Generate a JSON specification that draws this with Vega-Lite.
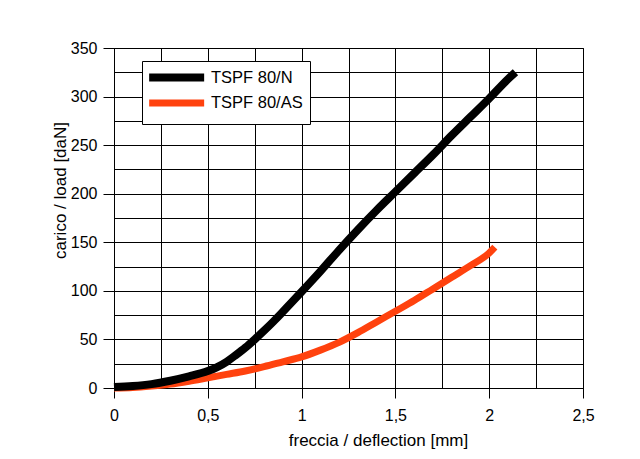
{
  "$schema": "https://vega.github.io/schema/vega-lite/v6.json",
  "width": 469,
  "height": 340,
  "autosize": {"type": "none"},
  "padding": {"left": 114, "top": 48, "right": 57, "bottom": 71},
  "background": "white",
  "config": {
    "font": "Liberation Sans",
    "view": {"stroke": "black", "strokeWidth": 1}
  },
  "data": {
    "values": [
      {"s": "TSPF 80/AS", "x": 0, "y": 0},
      {"s": "TSPF 80/AS", "x": 0.1, "y": 0.5},
      {"s": "TSPF 80/AS", "x": 0.2, "y": 2},
      {"s": "TSPF 80/AS", "x": 0.3, "y": 4},
      {"s": "TSPF 80/AS", "x": 0.4, "y": 7},
      {"s": "TSPF 80/AS", "x": 0.5, "y": 10.5},
      {"s": "TSPF 80/AS", "x": 0.6, "y": 14},
      {"s": "TSPF 80/AS", "x": 0.7, "y": 17.5},
      {"s": "TSPF 80/AS", "x": 0.8, "y": 22},
      {"s": "TSPF 80/AS", "x": 0.9, "y": 27},
      {"s": "TSPF 80/AS", "x": 1.0, "y": 32},
      {"s": "TSPF 80/AS", "x": 1.1, "y": 39},
      {"s": "TSPF 80/AS", "x": 1.2, "y": 47},
      {"s": "TSPF 80/AS", "x": 1.3, "y": 57},
      {"s": "TSPF 80/AS", "x": 1.4, "y": 68},
      {"s": "TSPF 80/AS", "x": 1.5, "y": 79},
      {"s": "TSPF 80/AS", "x": 1.6, "y": 90},
      {"s": "TSPF 80/AS", "x": 1.7, "y": 102},
      {"s": "TSPF 80/AS", "x": 1.8, "y": 114},
      {"s": "TSPF 80/AS", "x": 1.9, "y": 126},
      {"s": "TSPF 80/AS", "x": 2.0, "y": 139},
      {"s": "TSPF 80/AS", "x": 2.03, "y": 145},
      {"s": "TSPF 80/N", "x": 0, "y": 1},
      {"s": "TSPF 80/N", "x": 0.1, "y": 2},
      {"s": "TSPF 80/N", "x": 0.2, "y": 4},
      {"s": "TSPF 80/N", "x": 0.3, "y": 7.5},
      {"s": "TSPF 80/N", "x": 0.4, "y": 12},
      {"s": "TSPF 80/N", "x": 0.5, "y": 17.5},
      {"s": "TSPF 80/N", "x": 0.55, "y": 21.5},
      {"s": "TSPF 80/N", "x": 0.6, "y": 27},
      {"s": "TSPF 80/N", "x": 0.65, "y": 34},
      {"s": "TSPF 80/N", "x": 0.7, "y": 41.5},
      {"s": "TSPF 80/N", "x": 0.75, "y": 50},
      {"s": "TSPF 80/N", "x": 0.8, "y": 59},
      {"s": "TSPF 80/N", "x": 0.85, "y": 68.5},
      {"s": "TSPF 80/N", "x": 0.9, "y": 78.5},
      {"s": "TSPF 80/N", "x": 1.0, "y": 99},
      {"s": "TSPF 80/N", "x": 1.1, "y": 120},
      {"s": "TSPF 80/N", "x": 1.2, "y": 142},
      {"s": "TSPF 80/N", "x": 1.3, "y": 163},
      {"s": "TSPF 80/N", "x": 1.4, "y": 183},
      {"s": "TSPF 80/N", "x": 1.5, "y": 202},
      {"s": "TSPF 80/N", "x": 1.6, "y": 221},
      {"s": "TSPF 80/N", "x": 1.7, "y": 240},
      {"s": "TSPF 80/N", "x": 1.8, "y": 260},
      {"s": "TSPF 80/N", "x": 1.9, "y": 279},
      {"s": "TSPF 80/N", "x": 2.0, "y": 298},
      {"s": "TSPF 80/N", "x": 2.1, "y": 318},
      {"s": "TSPF 80/N", "x": 2.14, "y": 325}
    ]
  },
  "mark": {"type": "line", "interpolate": "monotone"},
  "encoding": {
    "x": {
      "field": "x",
      "type": "quantitative",
      "scale": {"domain": [0, 2.5], "nice": false, "zero": false},
      "axis": {
        "title": "freccia / deflection [mm]",
        "values": [0, 0.25, 0.5, 0.75, 1, 1.25, 1.5, 1.75, 2, 2.25, 2.5],
        "labelExpr": "abs(datum.value*2 - round(datum.value*2)) < 0.001 ? replace(format(datum.value, '~g'), '.', ',') : ''",
        "tickOpacity": {"condition": {"test": "abs(datum.value*2 - round(datum.value*2)) < 0.001", "value": 1}, "value": 0},
        "grid": true,
        "gridColor": "black",
        "gridOpacity": 1,
        "gridWidth": 1,
        "domainColor": "black",
        "domainWidth": 1,
        "tickColor": "black",
        "tickSize": 10,
        "labelPadding": 9,
        "labelFontSize": 16,
        "labelColor": "black",
        "labelFlush": false,
        "labelOverlap": false,
        "titleFontSize": 17,
        "titleFontWeight": "normal",
        "titleColor": "black",
        "titleX": 264,
        "titleY": 52,
        "titleBaseline": "middle",
        "titleAlign": "center"
      }
    },
    "y": {
      "field": "y",
      "type": "quantitative",
      "scale": {"domain": [0, 350], "nice": false},
      "axis": {
        "title": "carico / load [daN]",
        "values": [0, 25, 50, 75, 100, 125, 150, 175, 200, 225, 250, 275, 300, 325, 350],
        "labelExpr": "datum.value % 50 == 0 ? format(datum.value, 'd') : ''",
        "tickOpacity": {"condition": {"test": "datum.value % 50 == 0", "value": 1}, "value": 0},
        "grid": true,
        "gridColor": "black",
        "gridOpacity": 1,
        "gridWidth": 1,
        "domainColor": "black",
        "domainWidth": 1,
        "tickColor": "black",
        "tickSize": 11,
        "labelPadding": 6,
        "labelFontSize": 16,
        "labelColor": "black",
        "labelFlush": false,
        "labelOverlap": false,
        "titleFontSize": 17,
        "titleFontWeight": "normal",
        "titleColor": "black",
        "titleAngle": -90,
        "titleX": -54,
        "titleY": 142,
        "titleBaseline": "middle",
        "titleAlign": "center"
      }
    },
    "color": {
      "field": "s",
      "type": "nominal",
      "scale": {"domain": ["TSPF 80/N", "TSPF 80/AS"], "range": ["#000000", "#ff420e"]},
      "legend": {
        "orient": "none",
        "legendX": 28,
        "legendY": 13,
        "title": null,
        "symbolType": "M-1.7,0H8.3",
        "symbolSize": 121,
        "symbolStrokeWidth": 7,
        "symbolFillColor": "transparent",
        "labelOffset": 43,
        "padding": 7,
        "strokeColor": "black",
        "fillColor": "white",
        "labelFontSize": 16.5,
        "labelColor": "black",
        "rowPadding": -6
      }
    },
    "strokeWidth": {
      "field": "s",
      "type": "nominal",
      "scale": {"domain": ["TSPF 80/N", "TSPF 80/AS"], "range": [8, 7]},
      "legend": null
    }
  }
}
